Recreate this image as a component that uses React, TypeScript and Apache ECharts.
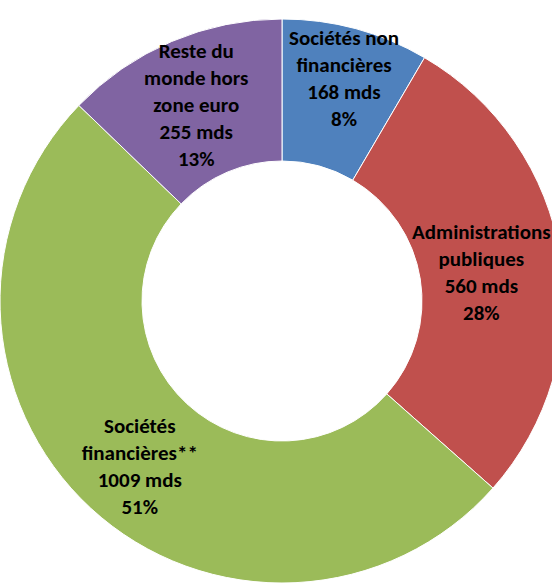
import React, { useEffect, useRef } from "react";
import * as echarts from "echarts";

const categories = [
  "Sociétés non\nfinancières",
  "Administrations\npubliques",
  "Sociétés\nfinancières**",
  "Reste du\nmonde hors\nzone euro",
];
const values = [168, 560, 1009, 255];
const amountLabels = ["168 mds", "560 mds", "1009 mds", "255 mds"];
const percentLabels = ["8%", "28%", "51%", "13%"];
const colors = ["#4F81BD", "#C0504D", "#9BBB59", "#8064A2"];

const labelNudges: [number, number][] = [
  [6, -16],
  [-12, 5],
  [3, 8],
  [-2, 1],
];

export default function App() {
  const ref = useRef<HTMLDivElement>(null);
  useEffect(() => {
    if (!ref.current) return;
    const chart = echarts.init(ref.current, undefined, { renderer: "svg" });
    chart.setOption({
      animation: false,
      series: [
        {
          type: "pie",
          center: [282, 301],
          radius: [140, 282],
          startAngle: 90,
          clockwise: true,
          avoidLabelOverlap: false,
          itemStyle: { borderColor: "#ffffff", borderWidth: 1 },
          label: {
            show: true,
            position: "inside",
            color: "#000000",
            fontFamily: "Carlito, 'Liberation Sans Narrow', sans-serif",
            fontWeight: "bold",
            fontSize: 21,
            lineHeight: 27,
            align: "center",
            formatter: (p: any) =>
              `${categories[p.dataIndex]}\n${amountLabels[p.dataIndex]}\n${percentLabels[p.dataIndex]}`,
          },
          labelLine: { show: false },
          labelLayout: (p: any) => ({
            dx: labelNudges[p.dataIndex][0],
            dy: labelNudges[p.dataIndex][1],
          }),
          data: values.map((v, i) => ({
            value: v,
            name: categories[i],
            itemStyle: { color: colors[i] },
          })),
        },
      ],
    });
    return () => chart.dispose();
  }, []);
  return (
    <div
      ref={ref}
      style={{ position: "fixed", left: 0, top: 0, width: 552, height: 585, background: "#fff" }}
    />
  );
}
